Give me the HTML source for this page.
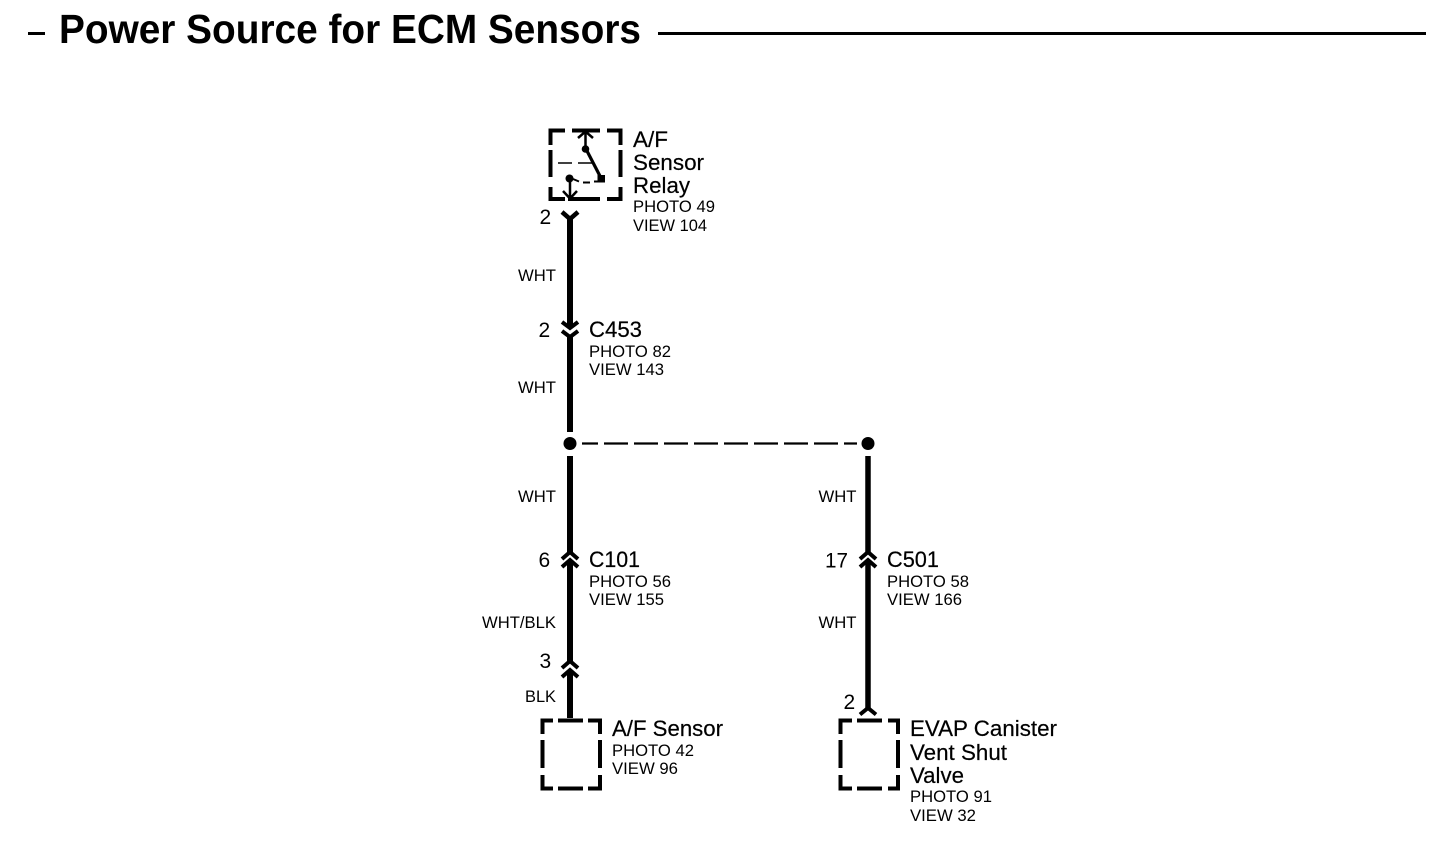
<!DOCTYPE html>
<html>
<head>
<meta charset="utf-8">
<style>
html,body{margin:0;padding:0;background:#fff;}
svg{display:block;}
text{font-family:"Liberation Sans",sans-serif;fill:#000;}
.m{font-size:22px;stroke:#000;stroke-width:.2px;}
.s{font-size:17px;}
.w{font-size:16.5px;}
.n{font-size:21px;}
</style>
</head>
<body>
<svg width="1456" height="850" viewBox="0 0 1456 850" xmlns="http://www.w3.org/2000/svg">
<rect width="1456" height="850" fill="#fff"/>

<!-- Title -->
<rect x="28" y="32" width="17" height="3" fill="#000"/>
<text x="59" y="43" font-size="41" font-weight="700" textLength="582" lengthAdjust="spacingAndGlyphs">Power Source for ECM Sensors</text>
<rect x="658" y="32" width="768" height="3" fill="#000"/>

<!-- Relay box -->
<g fill="none" stroke="#000" stroke-width="4">
<path d="M565 130.500H550.500V145M572 130.500H600M607 130.500H620.500V145M550.500 150V177M620.500 150V177M550.500 187V199H565M568 199H600M607 199H620.500V187"/>
</g>
<g fill="none" stroke="#000" stroke-width="2.500">
<path d="M585.500 131V148M578 138L585.500 131.500L593 138"/>
<path d="M570 179V198M563 191L570 198.500L577 191"/>
<path d="M558 163H572M578 163H592" stroke-width="1.500"/>
<path d="M573 179L579 181.500M583 182.500H590M594 181.500H598" stroke-width="2"/>
</g>
<path d="M586.500 150L601 178" stroke="#000" stroke-width="3.200" fill="none"/>
<circle cx="585.500" cy="149" r="3.800" fill="#000"/>
<circle cx="569.500" cy="178.500" r="4" fill="#000"/>
<rect x="597.500" y="175" width="7.500" height="7.500" fill="#000"/>

<!-- Wires -->
<g stroke="#000" fill="none">
<path d="M570 216V328M570 337V432M570 456V552M570 560V661M570 670V718" stroke-width="6"/>
<path d="M868 456V552M868 560V708" stroke-width="5.500"/>
<path d="M582 443.500H857" stroke-width="2.300" stroke-dasharray="16 6 24 6 24 6 24 6 24 6 24 6 24 6 24 6 24 6 13 99"/>
</g>
<circle cx="570" cy="443.500" r="6.500" fill="#000"/>
<circle cx="868" cy="443.500" r="6.500" fill="#000"/>

<!-- Connector marks -->
<g fill="none" stroke="#000" stroke-width="4">
<path d="M562 212L570 219L578 212" stroke-width="4.500"/>
<path d="M562 322L570 328L578 322"/>
<path d="M562 331L570 337L578 331"/>
<path d="M562 559L570 552L578 559"/>
<path d="M562 567L570 560L578 567"/>
<path d="M562 668L570 661L578 668"/>
<path d="M562 677L570 670L578 677"/>
<path d="M860 559L868 552L876 559"/>
<path d="M860 567L868 560L876 567"/>
<path d="M860 714.500L868 708L876 714.500"/>
</g>

<!-- Component boxes -->
<g fill="none" stroke="#000" stroke-width="4">
<path d="M553 720.500H542.500V734M542.500 740V768M542.500 775V788.500H553M558 788.500H583M588 788.500H600V775M600 768V740M600 734V720.500H588M558 720.500H583"/>
<path d="M852 720.500H840.500V734M840.500 740V768M840.500 775V788.500H852M857 788.500H882M888 788.500H898V775M898 768V740M898 734V720.500H888M857 720.500H882"/>
</g>

<!-- Relay labels -->
<text class="m" x="633" y="147" textLength="35" lengthAdjust="spacingAndGlyphs">A/F</text>
<text class="m" x="633" y="170" textLength="71" lengthAdjust="spacingAndGlyphs">Sensor</text>
<text class="m" x="633" y="193" textLength="57" lengthAdjust="spacingAndGlyphs">Relay</text>
<text class="s" x="633" y="212" textLength="82" lengthAdjust="spacingAndGlyphs">PHOTO 49</text>
<text class="s" x="633" y="231" textLength="74" lengthAdjust="spacingAndGlyphs">VIEW 104</text>

<!-- Pin numbers -->
<text class="n" x="539.500" y="224">2</text>
<text class="n" x="538.500" y="337">2</text>
<text class="n" x="538.500" y="567">6</text>
<text class="n" x="539.500" y="668">3</text>
<text class="n" x="825" y="567.500" textLength="23" lengthAdjust="spacingAndGlyphs">17</text>
<text class="n" x="843.500" y="709">2</text>

<!-- Wire colours -->
<text class="w" x="518" y="281" textLength="38" lengthAdjust="spacingAndGlyphs">WHT</text>
<text class="w" x="518" y="393" textLength="38" lengthAdjust="spacingAndGlyphs">WHT</text>
<text class="w" x="518" y="502" textLength="38" lengthAdjust="spacingAndGlyphs">WHT</text>
<text class="w" x="482" y="628" textLength="74" lengthAdjust="spacingAndGlyphs">WHT/BLK</text>
<text class="w" x="525" y="702" textLength="31" lengthAdjust="spacingAndGlyphs">BLK</text>
<text class="w" x="818.500" y="502" textLength="38" lengthAdjust="spacingAndGlyphs">WHT</text>
<text class="w" x="818.500" y="628" textLength="38" lengthAdjust="spacingAndGlyphs">WHT</text>

<!-- Connector labels -->
<text class="m" x="589" y="337" textLength="53" lengthAdjust="spacingAndGlyphs">C453</text>
<text class="s" x="589" y="357" textLength="82" lengthAdjust="spacingAndGlyphs">PHOTO 82</text>
<text class="s" x="589" y="375" textLength="75" lengthAdjust="spacingAndGlyphs">VIEW 143</text>

<text class="m" x="589" y="567" textLength="51" lengthAdjust="spacingAndGlyphs">C101</text>
<text class="s" x="589" y="587" textLength="82" lengthAdjust="spacingAndGlyphs">PHOTO 56</text>
<text class="s" x="589" y="605" textLength="75" lengthAdjust="spacingAndGlyphs">VIEW 155</text>

<text class="m" x="887" y="567" textLength="52" lengthAdjust="spacingAndGlyphs">C501</text>
<text class="s" x="887" y="587" textLength="82" lengthAdjust="spacingAndGlyphs">PHOTO 58</text>
<text class="s" x="887" y="605" textLength="75" lengthAdjust="spacingAndGlyphs">VIEW 166</text>

<!-- Component labels -->
<text class="m" x="612" y="736" textLength="111" lengthAdjust="spacingAndGlyphs">A/F Sensor</text>
<text class="s" x="612" y="756" textLength="82" lengthAdjust="spacingAndGlyphs">PHOTO 42</text>
<text class="s" x="612" y="774" textLength="66" lengthAdjust="spacingAndGlyphs">VIEW 96</text>

<text class="m" x="910" y="736" textLength="147" lengthAdjust="spacingAndGlyphs">EVAP Canister</text>
<text class="m" x="910" y="760" textLength="97" lengthAdjust="spacingAndGlyphs">Vent Shut</text>
<text class="m" x="910" y="783" textLength="54" lengthAdjust="spacingAndGlyphs">Valve</text>
<text class="s" x="910" y="802" textLength="82" lengthAdjust="spacingAndGlyphs">PHOTO 91</text>
<text class="s" x="910" y="821" textLength="66" lengthAdjust="spacingAndGlyphs">VIEW 32</text>
</svg>
</body>
</html>
